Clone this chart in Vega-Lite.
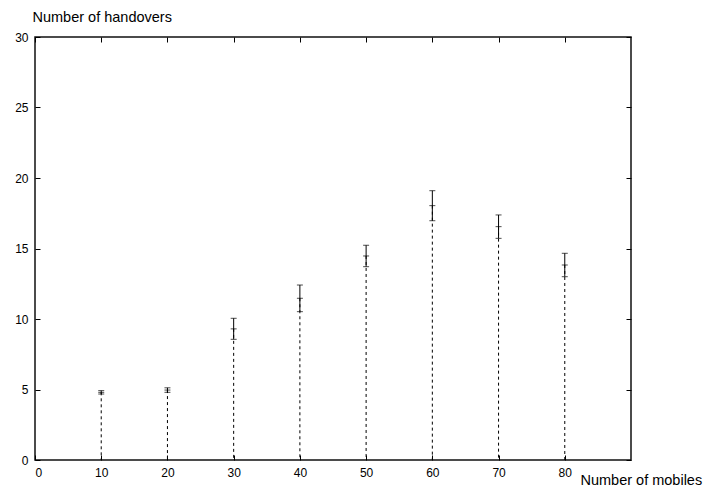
{
  "$schema": "https://vega.github.io/schema/vega-lite/v6.json",
  "width": 596,
  "height": 423,
  "autosize": {"type": "none"},
  "padding": {"left": 35, "top": 37, "right": 76, "bottom": 31},
  "background": "white",
  "config": {
    "view": {"stroke": "#111", "strokeWidth": 1.5},
    "font": "Liberation Sans",
    "axis": {"labelFont": "Liberation Sans", "titleFont": "Liberation Sans", "labelFontSize": 12, "titleFontSize": 14.5, "titleFontWeight": "normal", "labelColor": "black", "titleColor": "black", "tickColor": "black", "domain": false, "grid": false, "tickSize": -5, "labelPadding": 12}
  },
  "data": {
    "values": [
      {"mobiles": 10, "mean": 4.8, "lo": 4.68, "hi": 4.92},
      {"mobiles": 20, "mean": 4.96, "lo": 4.8, "hi": 5.12},
      {"mobiles": 30, "mean": 9.3, "lo": 8.56, "hi": 10.05},
      {"mobiles": 40, "mean": 11.47, "lo": 10.52, "hi": 12.41},
      {"mobiles": 50, "mean": 14.47, "lo": 13.71, "hi": 15.23},
      {"mobiles": 60, "mean": 18.04, "lo": 16.97, "hi": 19.1},
      {"mobiles": 70, "mean": 16.55, "lo": 15.72, "hi": 17.38},
      {"mobiles": 80, "mean": 13.83, "lo": 13.0, "hi": 14.66}
    ]
  },
  "resolve": {"axis": {"x": "independent", "y": "independent"}},
  "layer": [
    {
      "mark": {"type": "rule", "color": "black", "strokeWidth": 1, "strokeDash": [3, 3]},
      "encoding": {
        "x": {"field": "mobiles", "type": "quantitative", "scale": {"domain": [0, 90], "nice": false}, "axis": null},
        "y": {"field": "mean", "type": "quantitative", "scale": {"domain": [0, 30], "nice": false}, "axis": null},
        "y2": {"datum": 0}
      }
    },
    {
      "mark": {"type": "rule", "color": "black", "strokeWidth": 1},
      "encoding": {
        "x": {"field": "mobiles", "type": "quantitative", "axis": {"orient": "bottom", "values": [0, 10, 20, 30, 40, 50, 60, 70, 80], "title": "Number of mobiles", "titleAngle": 0, "titleAlign": "left", "titleBaseline": "middle", "titleX": 545, "titleY": 20}},
        "y": {"field": "lo", "type": "quantitative", "axis": {"orient": "left", "values": [0, 5, 10, 15, 20, 25, 30], "title": "Number of handovers", "titleAngle": 0, "titleAlign": "left", "titleBaseline": "middle", "titleX": -3, "titleY": -20}},
        "y2": {"field": "hi"}
      }
    },
    {
      "mark": {"type": "tick", "orient": "horizontal", "color": "black", "size": 6, "thickness": 1},
      "encoding": {
        "x": {"field": "mobiles", "type": "quantitative", "axis": {"orient": "top", "values": [0, 10, 20, 30, 40, 50, 60, 70, 80], "labels": false, "title": null}},
        "y": {"field": "lo", "type": "quantitative", "axis": {"orient": "right", "values": [0, 5, 10, 15, 20, 25, 30], "labels": false, "title": null}}
      }
    },
    {
      "mark": {"type": "tick", "orient": "horizontal", "color": "black", "size": 6, "thickness": 1},
      "encoding": {
        "x": {"field": "mobiles", "type": "quantitative", "axis": null},
        "y": {"field": "hi", "type": "quantitative", "axis": null}
      }
    },
    {
      "mark": {"type": "tick", "orient": "horizontal", "color": "black", "size": 6, "thickness": 1},
      "encoding": {
        "x": {"field": "mobiles", "type": "quantitative", "axis": null},
        "y": {"field": "mean", "type": "quantitative", "axis": null}
      }
    }
  ]
}
